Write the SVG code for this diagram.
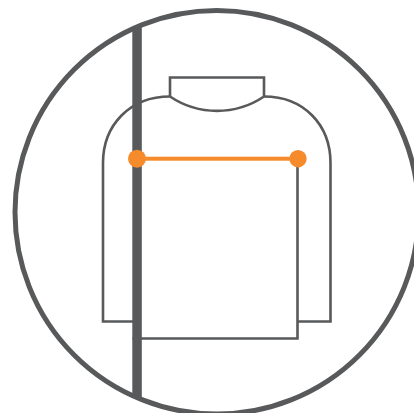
<svg xmlns="http://www.w3.org/2000/svg" width="414" height="413" viewBox="0 0 414 413">
<style>
.g{fill:none;stroke:#58595b;stroke-width:2.600}
.o{fill:#f68b2c}
</style>
<rect width="414" height="413" fill="#fff"/>
<g id="outline"><circle cx="216.800" cy="212.300" r="201.800" fill="none" stroke="#58595b" stroke-width="5"/></g>
<g id="sweater">
<path class="g" d="M170 96.500V77.500H264V96.500"/>
<path class="g" d="M170 96.500A84 84 0 0 0 264 96.500"/>
<path class="g" d="M170 96.500C130 96.500 103 125 103 163V321.500H134"/>
<path class="g" d="M264 96.500C304 96.500 330.500 125 330.500 163V321.500H297.500"/>
<path class="g" d="M132.500 338.500H297.500V159"/>
</g>
<g id="bar"><rect x="132.300" y="27" width="9.500" height="371" fill="#58595b"/></g>
<g id="measure">
<rect class="o" x="137" y="156.700" width="161" height="4"/>
<circle class="o" cx="137" cy="158.700" r="9"/>
<circle class="o" cx="298" cy="158.700" r="8.700"/>
</g>
</svg>
